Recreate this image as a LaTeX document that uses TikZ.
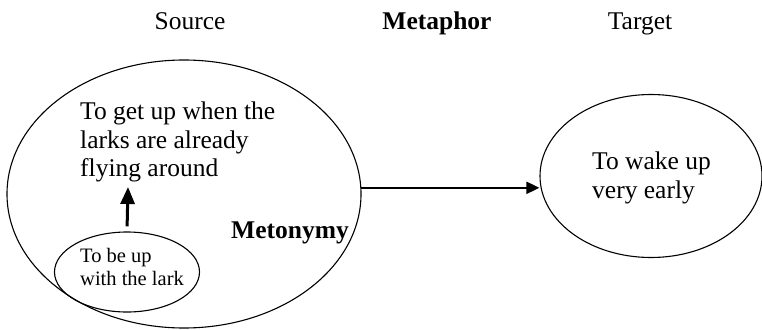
\documentclass[tikz,border=0pt]{standalone}
\usepackage{fontspec}
\setmainfont{Liberation Serif}
\usetikzlibrary{arrows.meta,positioning,shapes.geometric}

\begin{document}
\begin{tikzpicture}[x=1pt,y=-1pt,>=Triangle,font=\fontsize{25.5}{28.5}\selectfont,
  dombox/.style={draw,ellipse,line width=1.1pt,inner sep=0pt},
  txt/.style={align=left,inner sep=0pt,anchor=west},
  head/.style={inner sep=0pt,anchor=base}]
  \useasboundingbox (0,0) rectangle (762,329);

  % column headings
  \node[head] (hsrc) at (190,30) {Source};
  \node[head,font=\fontsize{25.5}{28.5}\selectfont\bfseries] (hmet) at (437,30) {Metaphor};
  \node[head] (htgt) at (640,30) {Target};

  % domains
  \node[dombox,minimum width=354pt,minimum height=268pt] (src) at (184,194) {};
  \node[dombox,minimum width=222pt,minimum height=163pt] (tgt) at (651,176) {};
  \node[dombox,minimum width=145pt,minimum height=80pt] (lark) at (127,272) {};

  \node[txt] (larks) at (80,142) {To get up when the\\larks are already\\flying around};
  \node[txt] (wake) at (592,178) {To wake up\\very early};
  \node[txt,font=\fontsize{20.5}{23}\selectfont] (up) at (80,267) {To be up\\with the lark};
  \node[inner sep=0pt,anchor=base west,font=\fontsize{25.5}{28.5}\selectfont\bfseries] (meto) at (231,238) {Metonymy};

  \coordinate (tip) at (128,187);
  \draw[-{Triangle[length=17pt,width=14pt]},line width=3pt,shorten <=5pt] (lark.north) -- (tip);
  \draw[-{Triangle[length=13pt,width=12pt]},line width=2pt] (src.2) -- (src.2 -| tgt.west);
\end{tikzpicture}
\end{document}
